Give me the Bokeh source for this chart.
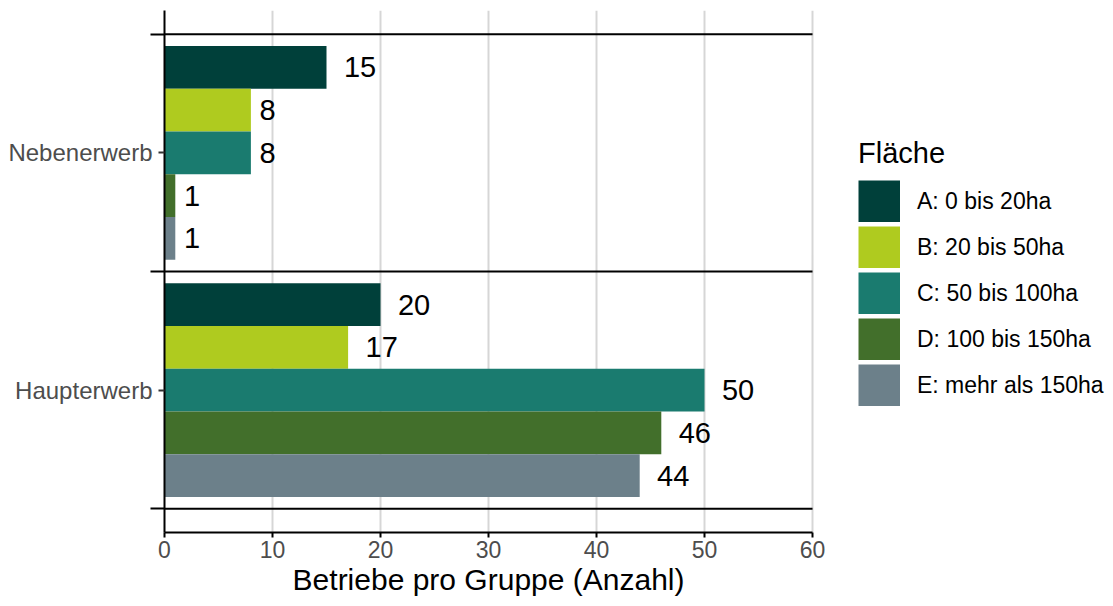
from bokeh.plotting import figure
from bokeh.models import FixedTicker, Legend, LegendItem, ColumnDataSource, Title
from bokeh.embed import file_html
from bokeh.resources import INLINE
from bokeh.core.properties import value

# ---------------- data ----------------
groups = ["Haupterwerb", "Nebenerwerb"]
classes = ["A: 0 bis 20ha", "B: 20 bis 50ha", "C: 50 bis 100ha",
           "D: 100 bis 150ha", "E: mehr als 150ha"]
haupterwerb = [20, 17, 50, 46, 44]
nebenerwerb = [15, 8, 8, 1, 1]
colors = ["#00403A", "#AFCB1F", "#1A7B6F", "#426F2B", "#6C808A"]
x_ticks = [0, 10, 20, 30, 40, 50, 60]
x_title = "Betriebe pro Gruppe (Anzahl)"
legend_title = "Fläche"

FONT = "Liberation Sans"
VAL_FS = 29
TITLE_FS = 30
bar_h = 0.9 / len(classes)

# the panel covers 0..60 in 648 px; the frame continues to the right to host the legend
PANEL_W = 648
FRAME_W = 941
x_max = x_ticks[-1]
x_end = x_max * FRAME_W / PANEL_W

p = figure(frame_width=FRAME_W, frame_height=522, output_backend="svg", toolbar_location=None,
           x_range=(0, x_end), y_range=(0.4, len(groups) + 0.6),
           min_border_left=164, min_border_right=0,
           min_border_top=10, min_border_bottom=68)
p.background_fill_color = "white"
p.outline_line_color = None

series = [haupterwerb, nebenerwerb]
legend_items = []
for i, (cls, col) in enumerate(zip(classes, colors)):
    ys, vals, labels, offs = [], [], [], []
    for g, vals_g in enumerate(series):
        ys.append(g + 1 + (2 - i) * bar_h)
        vals.append(vals_g[i])
        labels.append(str(vals_g[i]))
        offs.append(0.5 * len(str(vals_g[i])) * 0.6 * VAL_FS)
    src = ColumnDataSource(dict(y=ys, right=vals, label=labels, off=offs))
    p.hbar(y="y", left=0, right="right", height=bar_h, source=src,
           fill_color=col, line_color=None)
    p.text(x="right", y="y", text="label", x_offset="off", source=src,
           text_font=value(FONT), text_font_size=f"{VAL_FS}px",
           text_align="left", text_baseline="middle", text_color="black")
    # legend-only key (outside the visible range): a thick butt-capped line draws a square key
    key = p.line(x=[-10, -9], y=[-10, -10], line_color=col, line_width=42, line_cap="butt")
    legend_items.append(LegendItem(label=cls, renderers=[key]))

# separators between groups (inside the panel)
sep_y = [g + 0.5 for g in range(len(groups) + 1)]
p.segment(x0=[0] * len(sep_y), x1=[x_max] * len(sep_y), y0=sep_y, y1=sep_y,
          line_color="black", line_width=2)

# grid
p.ygrid.visible = False
p.xgrid.ticker = FixedTicker(ticks=x_ticks)
p.xgrid.grid_line_color = "#d6d6d6"
p.xgrid.grid_line_width = 2

# x axis
xa = p.xaxis[0]
xa.ticker = FixedTicker(ticks=x_ticks)
xa.bounds = (0, x_max)
xa.axis_line_color = "black"
xa.axis_line_width = 2
xa.major_tick_line_color = "black"
xa.major_tick_line_width = 2
xa.major_tick_out = 5
xa.major_tick_in = 0
xa.minor_tick_line_color = None
xa.major_label_text_font = FONT
xa.major_label_text_font_size = "23px"
xa.major_label_text_color = "#4d4d4d"
xa.major_label_standoff = 3

# axis title, centred under the 0..60 panel (approx. text width from Arial metrics)
title_w = 13.06 * TITLE_FS
xt = Title(text=x_title, align="left", offset=(PANEL_W - title_w) / 2,
           text_font=FONT, text_font_size=f"{TITLE_FS}px", text_font_style="normal",
           text_color="black", standoff=0)
p.add_layout(xt, "below")

# y axis
ya = p.yaxis[0]
ya.ticker = FixedTicker(ticks=[1, 2], minor_ticks=sep_y)
ya.major_label_overrides = {1: groups[0], 2: groups[1]}
ya.axis_line_color = "black"
ya.axis_line_width = 2
ya.major_tick_line_color = "#333333"
ya.major_tick_line_width = 2
ya.major_tick_out = 6
ya.major_tick_in = 0
ya.minor_tick_line_color = "black"
ya.minor_tick_line_width = 2
ya.minor_tick_out = 14
ya.minor_tick_in = 0
ya.major_label_text_font = FONT
ya.major_label_text_font_size = "24px"
ya.major_label_text_color = "#4d4d4d"
ya.major_label_standoff = -2

legend = Legend(items=legend_items, location=(694, 126))
legend.title = legend_title
legend.title_text_font = FONT
legend.title_text_font_size = "29px"
legend.title_text_font_style = "normal"
legend.title_text_color = "black"
legend.title_standoff = 10
legend.label_text_font = FONT
legend.label_text_font_size = "23px"
legend.label_text_color = "black"
legend.label_standoff = 17
legend.glyph_width = 42
legend.glyph_height = 42
legend.spacing = 4
legend.padding = 0
legend.margin = 0
legend.border_line_color = None
legend.background_fill_alpha = 0
p.add_layout(legend, "center")

open("out.html", "w").write(file_html(p, INLINE))
